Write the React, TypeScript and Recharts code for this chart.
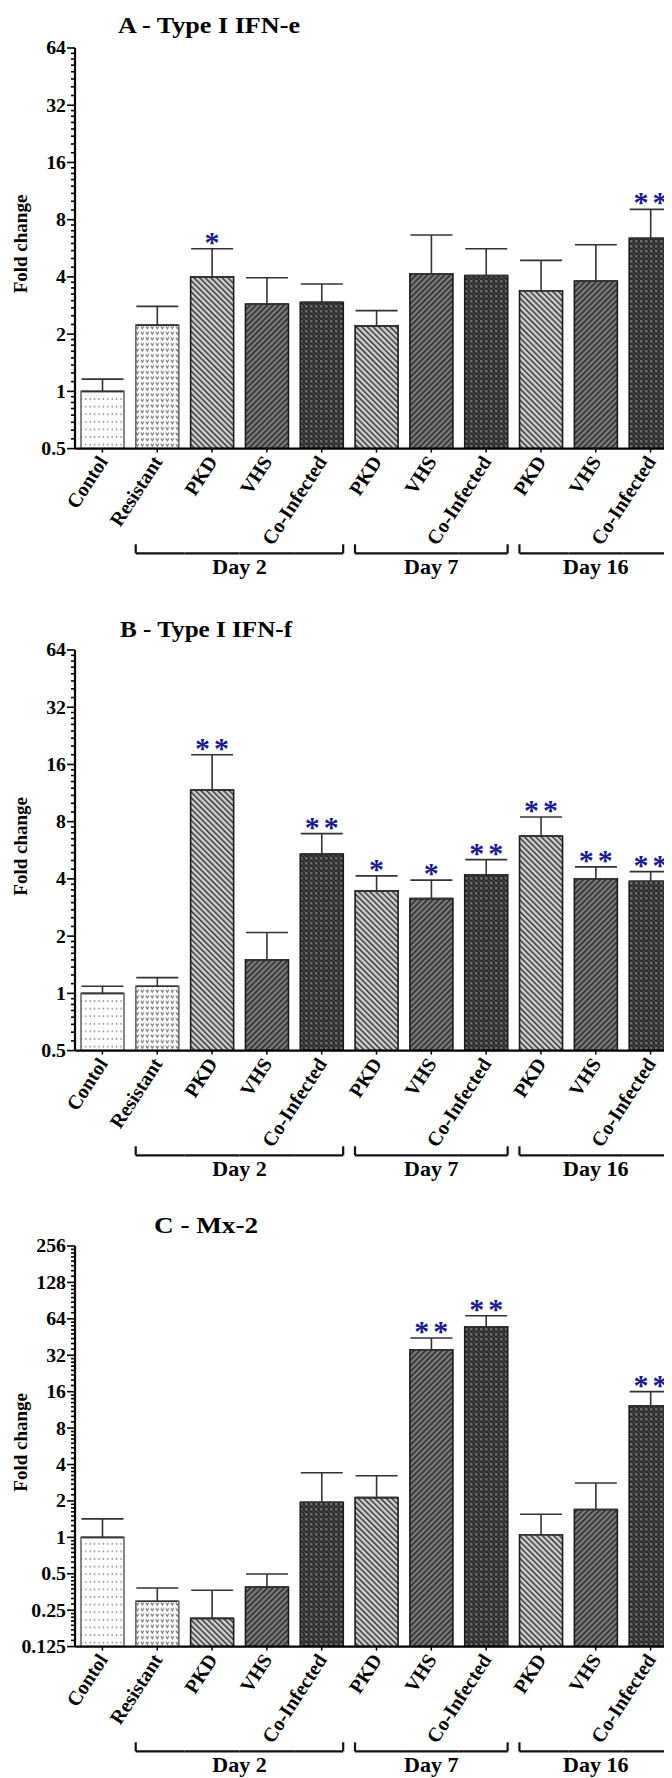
import React from 'react';
import { ComposedChart, Bar, Cell, ErrorBar, XAxis, YAxis, Scatter } from 'recharts';

const categories = ['Contol', 'Resistant', 'PKD', 'VHS', 'Co-Infected', 'PKD', 'VHS', 'Co-Infected', 'PKD', 'VHS', 'Co-Infected'];
const patternKinds = ['dots', 'speckle', 'light', 'mid', 'dark', 'light', 'mid', 'dark', 'light', 'mid', 'dark'];
const dayGroups = [
  { label: 'Day 2', start: 1, end: 4 },
  { label: 'Day 7', start: 5, end: 7 },
  { label: 'Day 16', start: 8, end: 10 },
];

const ifnEMean = [1.0, 2.23, 4.0, 2.88, 2.94, 2.21, 4.16, 4.07, 3.38, 3.8, 6.38];
const ifnEUpper = [1.16, 2.8, 5.63, 3.96, 3.67, 2.66, 6.64, 5.63, 4.89, 5.91, 9.06];
const ifnEStars = ['', '', '*', '', '', '', '', '', '', '', '**'];

const ifnFMean = [1.0, 1.09, 11.73, 1.5, 5.41, 3.46, 3.15, 4.2, 6.73, 4.01, 3.89];
const ifnFUpper = [1.09, 1.21, 17.98, 2.09, 6.92, 4.15, 3.94, 5.05, 8.46, 4.63, 4.37];
const ifnFStars = ['', '', '**', '', '**', '*', '*', '**', '**', '**', '**'];

const mx2Mean = [1.0, 0.296, 0.214, 0.389, 1.95, 2.13, 35.5, 55.0, 1.05, 1.7, 12.2];
const mx2Upper = [1.42, 0.381, 0.365, 0.498, 3.42, 3.23, 44.4, 67.8, 1.55, 2.81, 16.0];
const mx2Stars = ['', '', '', '', '', '', '**', '**', '', '', '**'];

const ticksAB = [0.5, 1, 2, 4, 8, 16, 32, 64];
const ticksC = [0.125, 0.25, 0.5, 1, 2, 4, 8, 16, 32, 64, 128, 256];

const FONT = '"Liberation Serif", "Times New Roman", serif';
const CHART_W = 680;
const CHART_H = 584;
const MARGIN = { top: 48, right: 2, left: 15, bottom: 0 };
const YAXIS_W = 60;
const XAXIS_H = 135.4;
const PLOT_W = CHART_W - MARGIN.left - MARGIN.right - YAXIS_W;
const BAND = PLOT_W / categories.length;
const BAR_W = 43;
const X_TICK = 4;

function withMinor(majors: number[]) {
  const out: number[] = [];
  for (let i = 0; i < majors.length; i++) {
    out.push(majors[i]);
    if (i < majors.length - 1) {
      for (let k = 1; k < 8; k++) out.push(majors[i] * (1 + k / 8));
    }
  }
  return out;
}

const fillFor = (kind: string) => `url(#p-${kind})`;
const strokeFor = (kind: string) => (kind === 'dots' || kind === 'speckle' ? '#6a6a6a' : '#1a1a1a');

function makeYTick(majors: number[]) {
  const set = new Set(majors);
  return (props: any) => {
    const { x, y, payload } = props;
    const major = set.has(payload.value);
    return (
      <g>
        <line x1={x - (major ? 8 : 4)} x2={x} y1={y} y2={y} stroke="#000" strokeWidth={1.6} />
        {major && (
          <text
            transform={`translate(${x - 9},${y}) scale(1.1,1)`}
            dy="0.36em"
            textAnchor="end"
            fontFamily={FONT}
            fontWeight="bold"
            fontSize={18}
            fill="#000"
          >
            {String(payload.value)}
          </text>
        )}
      </g>
    );
  };
}

function XTick(props: any) {
  const { x, y, payload } = props;
  const index = props.index ?? payload.index;
  const axisY = y - X_TICK;
  const label = categories[index];
  const g = dayGroups.find((d) => index >= d.start && index <= d.end);
  const by = axisY + 104.7;
  return (
    <g>
      <text
        transform={`translate(${x + 6},${axisY + 13}) rotate(-57)`}
        textAnchor="end"
        fontFamily={FONT}
        fontWeight="bold"
        fontSize={20}
        fill="#000"
      >
        {label}
      </text>
      {g && (
        <g stroke="#111" strokeWidth={2.2} fill="none">
          <line
            x1={index === g.start ? x - BAR_W / 2 : x - BAND / 2}
            x2={index === g.end ? x + BAR_W / 2 : x + BAND / 2}
            y1={by}
            y2={by}
          />
          {index === g.start && <line x1={x - BAR_W / 2} x2={x - BAR_W / 2} y1={by - 9} y2={by} />}
          {index === g.end && <line x1={x + BAR_W / 2} x2={x + BAR_W / 2} y1={by - 9} y2={by} />}
        </g>
      )}
      {g && index === g.start && (
        <text
          x={x + ((g.end - g.start) / 2) * BAND}
          y={by + 20.5}
          textAnchor="middle"
          fontFamily={FONT}
          fontWeight="bold"
          fontSize={22}
          fill="#000"
        >
          {g.label}
        </text>
      )}
    </g>
  );
}

function StarShape(props: any) {
  const { cx, cy, payload } = props;
  if (!payload || !payload.stars) return <g />;
  const spacing = payload.stars.length > 1 ? 4 : 0;
  return (
    <text x={cx + spacing / 2} y={cy + 3} textAnchor="middle" fontFamily={FONT} fontWeight="bold" fontSize={30} fill="#1a1a8e" letterSpacing={spacing}>
      {payload.stars}
    </text>
  );
}

function Panel({ mean, upper, stars, majors, top }: { mean: number[]; upper: number[]; stars: string[]; majors: number[]; top: number }) {
  const data = categories.map((c, i) => ({
    key: `c${i}`,
    label: c,
    mean: mean[i],
    err: [0, upper[i] - mean[i]],
    errTop: upper[i],
    stars: stars[i],
  }));
  const YTick = makeYTick(majors);
  return (
    <div style={{ position: 'absolute', left: 0, top }}>
      <ComposedChart width={CHART_W} height={CHART_H} data={data} margin={MARGIN}>
        <XAxis
          dataKey="key"
          type="category"
          interval={0}
          height={XAXIS_H}
          tick={<XTick />}
          tickSize={X_TICK}
          tickMargin={0}
          tickLine={{ stroke: '#000', strokeWidth: 1.5 }}
          axisLine={{ stroke: '#000', strokeWidth: 2.2 }}
        />
        <YAxis
          type="number"
          scale="log"
          domain={[majors[0], majors[majors.length - 1]]}
          allowDataOverflow
          ticks={withMinor(majors)}
          interval={0}
          width={YAXIS_W}
          tick={YTick}
          tickLine={false}
          tickSize={0}
          tickMargin={0}
          axisLine={{ stroke: '#000', strokeWidth: 2.2 }}
        />
        <Bar dataKey="mean" barSize={BAR_W} isAnimationActive={false}>
          {data.map((d, i) => (
            <Cell key={d.key} fill={fillFor(patternKinds[i])} stroke={strokeFor(patternKinds[i])} strokeWidth={1.6} />
          ))}
          <ErrorBar dataKey="err" direction="y" width={21} stroke="#333" strokeWidth={1.6} isAnimationActive={false} />
        </Bar>
        <Scatter dataKey="errTop" shape={StarShape} isAnimationActive={false} />
      </ComposedChart>
    </div>
  );
}

function Patterns() {
  return (
    <svg width={0} height={0} style={{ position: 'absolute' }}>
      <defs>
        <pattern id="p-dots" width={4.4} height={7.6} patternUnits="userSpaceOnUse">
          <rect width={4.4} height={7.6} fill="#fff" />
          <rect x={1.6} y={3.2} width={1.2} height={1.2} fill="#444" />
        </pattern>
        <pattern id="p-speckle" width={5} height={5.6} patternUnits="userSpaceOnUse">
          <rect width={5} height={5.6} fill="#fff" />
          <path d="M0.8 1.4 L2.3 3.8 L3.8 1.4" stroke="#6e6e6e" strokeWidth={1.1} fill="none" />
        </pattern>
        <pattern id="p-light" width={4} height={4} patternUnits="userSpaceOnUse" patternTransform="rotate(-45)">
          <rect width={4} height={4} fill="#d0d0d0" />
          <rect width={1.4} height={4} fill="#2a2a2a" />
        </pattern>
        <pattern id="p-mid" width={4} height={4} patternUnits="userSpaceOnUse" patternTransform="rotate(45)">
          <rect width={4} height={4} fill="#7c7c7c" />
          <rect width={1.5} height={4} fill="#262626" />
        </pattern>
        <pattern id="p-dark" width={5} height={5} patternUnits="userSpaceOnUse">
          <rect width={5} height={5} fill="#2c2c2c" />
          <path d="M0 0 H2.5 V2.5 H0 Z" fill="#6c6c6c" />
          <path d="M2.5 2.5 L5 5" stroke="#5a5a5a" strokeWidth={0.9} />
        </pattern>
      </defs>
    </svg>
  );
}

export default function App() {
  return (
    <div style={{ position: 'relative', width: 672, height: 1778, margin: '-8px 0 0 -8px', overflow: 'hidden', background: '#fff' }}>
      <Patterns />
      <Panel mean={ifnEMean} upper={ifnEUpper} stars={ifnEStars} majors={ticksAB} top={0} />
      <Panel mean={ifnFMean} upper={ifnFUpper} stars={ifnFStars} majors={ticksAB} top={602.3} />
      <Panel mean={mx2Mean} upper={mx2Upper} stars={mx2Stars} majors={ticksC} top={1198.3} />
      <svg width={672} height={1778} style={{ position: 'absolute', left: 0, top: 0, pointerEvents: 'none' }}>
        <g fontFamily={FONT} fontWeight="bold" fill="#000">
          <text x={118} y={33.3} fontSize={24} textLength={182} lengthAdjust="spacingAndGlyphs">A - Type I IFN-e</text>
          <text x={120} y={636.7} fontSize={24} textLength={172} lengthAdjust="spacingAndGlyphs">B - Type I IFN-f</text>
          <text x={154} y={1232.7} fontSize={24} textLength={104} lengthAdjust="spacingAndGlyphs">C - Mx-2</text>
          <text transform="translate(20.5,244) rotate(-90)" dy="0.35em" textAnchor="middle" fontSize={19}>Fold change</text>
          <text transform="translate(20.5,846.3) rotate(-90)" dy="0.35em" textAnchor="middle" fontSize={19}>Fold change</text>
          <text transform="translate(20.5,1442.3) rotate(-90)" dy="0.35em" textAnchor="middle" fontSize={19}>Fold change</text>
        </g>
      </svg>
    </div>
  );
}
